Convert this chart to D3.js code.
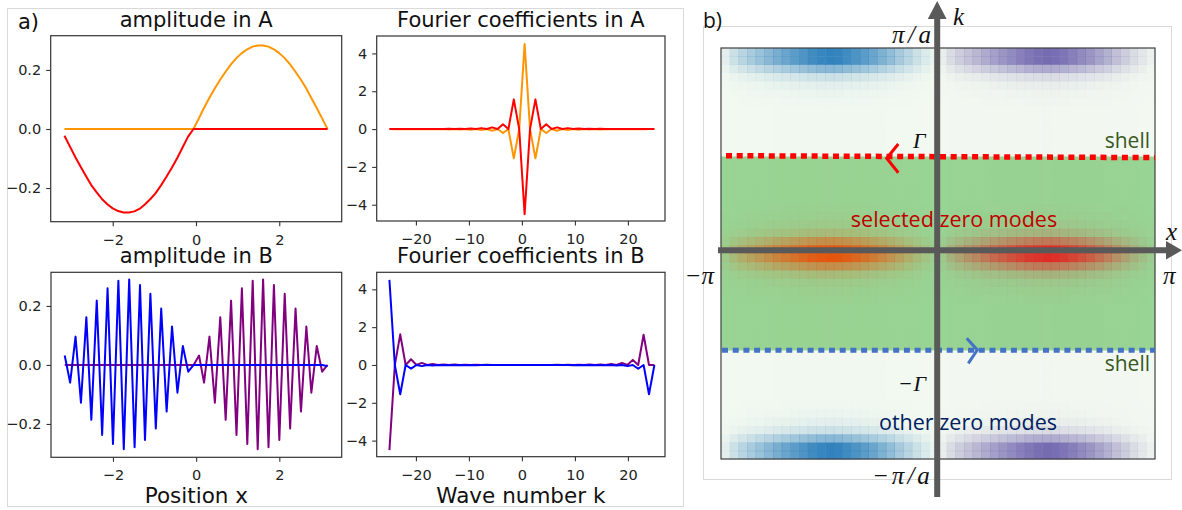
<!DOCTYPE html>
<html><head><meta charset="utf-8">
<script src="https://cdn.jsdelivr.net/npm/d3@7"></script>
<style>body{margin:0;background:#fff}svg{display:block}</style>
</head><body>
<svg id="c" width="1182" height="510"></svg>
<script>
// ---------------- data ----------------
const posX = [-3.16,-3.03,-2.90,-2.77,-2.64,-2.52,-2.39,-2.26,-2.13,-2.00,-1.87,-1.74,-1.61,-1.48,-1.35,-1.23,-1.10,-0.97,-0.84,-0.71,-0.58,-0.45,-0.32,-0.19,-0.06,
  0.07,0.19,0.32,0.45,0.58,0.71,0.84,0.97,1.10,1.23,1.36,1.48,1.61,1.74,1.87,2.00,2.13,2.26,2.39,2.52,2.65,2.77,2.90,3.03,3.16];
const ampARed = [-0.023,-0.059,-0.095,-0.128,-0.160,-0.189,-0.214,-0.237,-0.255,-0.269,-0.278,-0.283,-0.283,-0.279,-0.270,-0.256,-0.238,-0.217,-0.191,-0.162,-0.131,-0.098,-0.062,-0.026,0,
  0,0,0,0,0,0,0,0,0,0,0,0,0,0,0,0,0,0,0,0,0,0,0,0,0];
const ampAOrange = [0,0,0,0,0,0,0,0,0,0,0,0,0,0,0,0,0,0,0,0,0,0,0,0,
  0,0.036,0.071,0.105,0.137,0.167,0.194,0.219,0.240,0.257,0.270,0.279,0.283,0.283,0.279,0.270,0.257,0.240,0.219,0.194,0.167,0.137,0.105,0.071,0.036,0];
const ampBBlue = [0.032,-0.060,0.096,-0.128,0.162,-0.186,0.218,-0.237,0.260,-0.268,0.285,-0.286,0.290,-0.279,0.271,-0.254,0.241,-0.215,0.191,-0.158,0.130,-0.094,0.064,-0.023,0,
  0,0,0,0,0,0,0,0,0,0,0,0,0,0,0,0,0,0,0,0,0,0,0,0,-0.004];
const ampBPurple = [0,0,0,0,0,0,0,0,0,0,0,0,0,0,0,0,0,0,0,0,0,0,0,0,0,
  0.032,-0.060,0.096,-0.128,0.162,-0.186,0.218,-0.237,0.260,-0.268,0.285,-0.286,0.290,-0.279,0.271,-0.254,0.241,-0.215,0.191,-0.158,0.130,-0.094,0.064,-0.023,0];

// wave numbers: 50 points from -25 to 25
const kGrid = [-25,-23.98,-22.96,-21.94,-20.92,-19.90,-18.88,-17.86,-16.84,-15.82,-14.80,-13.78,-12.76,-11.73,-10.71,-9.69,-8.67,-7.65,-6.63,-5.61,-4.59,-3.57,-2.55,-1.53,-0.51,
  0.51,1.53,2.55,3.57,4.59,5.61,6.63,7.65,8.67,9.69,10.71,11.73,12.76,13.78,14.80,15.82,16.84,17.86,18.88,19.90,20.92,21.94,22.96,23.98,25];
const fourierAOrange = [0,-0.01,0,-0.01,0,-0.01,0,-0.01,0,-0.01,0,-0.02,0,-0.02,0,-0.03,0,-0.05,0,-0.09,0,-0.21,0,-1.55,0,
  4.5,0,-1.55,0,-0.21,0,-0.09,0,-0.05,0,-0.03,0,-0.02,0,-0.02,0,-0.01,0,-0.01,0,-0.01,0,-0.01,0,0];
const fourierARed = [0,0.01,0,0.01,0,0.01,0,0.01,0,0.01,0,0.02,0,0.02,0,0.03,0,0.05,0,0.09,0,0.25,0,1.57,0,
  -4.5,0,1.57,0,0.25,0,0.09,0,0.05,0,0.03,0,0.02,0,0.02,0,0.01,0,0.01,0,0.01,0,0.01,0,0];
const fourierBBlue = [4.5,0,-1.55,0,-0.19,0,-0.06,0,-0.03,0,-0.02,0,-0.01,0,-0.01,0,-0.01,0,0,0,0,0,0,0,0,
  0,0,0,0,0,0,0,0,0,-0.01,0,-0.01,0,-0.01,0,-0.02,0,-0.03,0,-0.06,0,-0.2,0,-1.55,0];
const fourierBPurple = [-4.5,0,1.62,0,0.3,0,0.11,0,0.05,0,0.03,0,0.02,0,0.01,0,0.01,0,0.01,0,0,0,0,0,0,
  0,0,0,0,0,0,0.01,0,0.01,0,0.01,0,0.02,0,0.03,0,0.05,0,0.11,0,0.27,0,1.6,0,0];

const posTicks = [-2,0,2];
const ampTicks = [-0.2,0,0.2];
const kTicks = [-20,-10,0,10,20];
const coefTicks = [-4,-2,0,2,4];

// heat map (panel b): 50 x-columns, 50 k-rows
const heatColProfile = [0.08,0.2,0.3,0.38,0.46,0.55,0.63,0.7,0.78,0.85,0.92,0.97,1.0,0.98,0.93,0.86,0.78,0.7,0.6,0.5,0.4,0.3,0.2,0.12,0.05];
const heatRowProfile = [1,1,0.55,0.2,0.08,0.04,0.02,0.01,0.01,0.01,0.01,0.01,0.01,0.01,0.01,0.01,0.01,0.01,0.01,0.02,0.04,0.08,0.2,0.55,1,
  1,0.55,0.2,0.08,0.04,0.02,0.01,0.01,0.01,0.01,0.01,0.01,0.01,0.01,0.01,0.01,0.01,0.01,0.02,0.04,0.08,0.2,0.55,1,1];
const heatRowGroup = [0,0,0,0,0,0,0,0,0,0,0,0,0,1,1,1,1,1,1,1,1,1,1,1,1,1,1,1,1,1,1,1,1,1,1,1,1,0,0,0,0,0,0,0,0,0,0,0,0,0];
const blobColors = [["#3182bd","#756bb1"],["#e6550d","#de2d26"]];

// ---------------- drawing ----------------
const svg = d3.select("#c");
const FONT = "DejaVu Sans, sans-serif";

// panel frames
svg.append("rect").attr("x",7.5).attr("y",8.5).attr("width",676).attr("height",498)
  .attr("fill","none").attr("stroke","#d9d9d9").attr("stroke-width",1);
svg.append("text").attr("x",18).attr("y",29).attr("font-family",FONT).attr("font-size",21).attr("fill","#111").text("a)");

function panel(o){
  const g = svg.append("g");
  const x = d3.scaleLinear().domain(o.xd).range([o.l,o.r]);
  const y = d3.scaleLinear().domain(o.yd).range([o.b,o.t]);
  g.append("text").attr("x",(o.l+o.r)/2).attr("y",o.t-9).attr("text-anchor","middle")
    .attr("font-family",FONT).attr("font-size",21).attr("fill","#111").text(o.title);
  const line = d3.line().x((d,i)=>x(o.xs[i])).y(d=>y(d));
  o.series.forEach(s=>{
    g.append("path").datum(s.v).attr("d",line).attr("fill","none").attr("stroke",s.c)
      .attr("stroke-width",2).attr("stroke-linejoin","round");
  });
  const xa = g.append("g").attr("transform",`translate(0,${o.b})`)
    .call(d3.axisBottom(x).tickValues(o.xt).tickSize(4.5).tickPadding(6).tickFormat(o.xf));
  const ya = g.append("g").attr("transform",`translate(${o.l},0)`)
    .call(d3.axisLeft(y).tickValues(o.yt).tickSize(4.5).tickPadding(5).tickFormat(o.yf));
  [xa,ya].forEach(a=>{
    a.select(".domain").remove();
    a.selectAll("line").attr("stroke","#333").attr("stroke-width",1.1);
    a.selectAll("text").attr("font-family",FONT).attr("font-size",14.5).attr("fill","#222");
  });
  xa.selectAll("text").attr("dy","0.85em");
  g.append("rect").attr("x",o.l).attr("y",o.t).attr("width",o.r-o.l).attr("height",o.b-o.t)
    .attr("fill","none").attr("stroke","#333").attr("stroke-width",1.2);
  if(o.xlabel) g.append("text").attr("x",(o.l+o.r)/2).attr("y",o.b+46).attr("text-anchor","middle")
    .attr("font-family",FONT).attr("font-size",21.5).attr("fill","#111").text(o.xlabel);
}
const minus = s => s.replace("-","\u2212");
const fmtAmp = d => minus(d3.format(".1f")(d));
const fmtInt = d => minus(String(d));

panel({l:50.7,r:341.7,t:35.7,b:221.7,xd:[-3.49,3.50],yd:[-0.314,0.316],title:"amplitude in A",
  xs:posX,series:[{v:ampAOrange,c:"#ff9500"},{v:ampARed,c:"#ff0000"}],xt:posTicks,yt:ampTicks,xf:fmtInt,yf:fmtAmp});
panel({l:376.7,r:665,t:36,b:221,xd:[-27.4,27.0],yd:[-4.86,4.92],title:"Fourier coefficients in A",
  xs:kGrid,series:[{v:fourierAOrange,c:"#ff9500"},{v:fourierARed,c:"#ff0000"}],xt:kTicks,yt:coefTicks,xf:fmtInt,yf:fmtInt});
panel({l:51,r:341.7,t:272.3,b:457.3,xd:[-3.49,3.50],yd:[-0.313,0.314],title:"amplitude in B",xlabel:"Position x",
  xs:posX,series:[{v:ampBPurple,c:"#800080"},{v:ampBBlue,c:"#0000ff"}],xt:posTicks,yt:ampTicks,xf:fmtInt,yf:fmtAmp});
panel({l:376.7,r:665,t:272.3,b:456.7,xd:[-27.4,27.0],yd:[-4.85,4.90],title:"Fourier coefficients in B",xlabel:"Wave number k",
  xs:kGrid,series:[{v:fourierBPurple,c:"#800080"},{v:fourierBBlue,c:"#0000ff"}],xt:kTicks,yt:coefTicks,xf:fmtInt,yf:fmtInt});

// ---------------- panel b ----------------
svg.append("rect").attr("x",703.5).attr("y",26.5).attr("width",468).attr("height",453)
  .attr("fill","none").attr("stroke","#d9d9d9").attr("stroke-width",1);
svg.append("text").attr("x",703).attr("y",28).attr("font-family","Open Sans, sans-serif").attr("font-size",21).attr("fill","#111").text("b)");

const HX0=721, HX1=1155, HY0=48, HY1=459;
const cx = d3.scaleBand().domain(d3.range(50)).range([HX0,HX1]);
const cy = d3.scaleBand().domain(d3.range(50)).range([HY0,HY1]);
svg.append("rect").attr("x",HX0).attr("y",HY0).attr("width",HX1-HX0).attr("height",HY1-HY0).attr("fill","#f3f9f1");
svg.append("rect").attr("x",HX0).attr("y",156.5).attr("width",HX1-HX0).attr("height",350.5-156.5).attr("fill","#98d494");
const cells=[];
heatRowProfile.forEach((rp,r)=>{
  for(let c=0;c<50;c++){
    const half = c<25?0:1;
    const cp = heatColProfile[c%25];
    cells.push({r,c,t:Math.min(1,rp*cp),col:blobColors[heatRowGroup[r]][half]});
  }
});
svg.append("g").selectAll("rect").data(cells).join("rect")
  .attr("x",d=>cx(d.c)).attr("y",d=>cy(d.r)).attr("width",cx.bandwidth()+0.4).attr("height",cy.bandwidth()+0.4)
  .attr("fill",d=>d.col).attr("fill-opacity",d=>d.t);
svg.append("rect").attr("x",HX0).attr("y",HY0).attr("width",HX1-HX0).attr("height",HY1-HY0)
  .attr("fill","none").attr("stroke","#404040").attr("stroke-width",1.2);

// shells
svg.append("line").attr("x1",726).attr("y1",155.7).attr("x2",1155).attr("y2",157.6)
  .attr("stroke","#ff0000").attr("stroke-width",5.5).attr("stroke-dasharray","6,4.7");
svg.append("line").attr("x1",722).attr("y1",350.3).attr("x2",1155).attr("y2",350.3)
  .attr("stroke","#4472c4").attr("stroke-width",5).attr("stroke-dasharray","6,4.7");
svg.append("polyline").attr("points","898.3,144 886.7,158.3 898.3,172.7").attr("fill","none")
  .attr("stroke","#ff0000").attr("stroke-width",3);
svg.append("polyline").attr("points","966.7,338.3 977.3,350 968.3,363.3").attr("fill","none")
  .attr("stroke","#4472c4").attr("stroke-width",3);

const SANS="Open Sans, sans-serif", SERIF="Liberation Serif, DejaVu Serif, serif";
function txt(x,y,s,o){
  const t=svg.append("text").attr("x",x).attr("y",y).text(s)
    .attr("font-family",o.f).attr("font-size",o.s).attr("fill",o.c||"#111");
  if(o.i) t.attr("font-style","italic");
  if(o.a) t.attr("text-anchor",o.a);
  if(o.ls) t.attr("letter-spacing",o.ls);
  return t;
}
txt(1150,148,"shell",{f:SANS,s:21,c:"#385723",a:"end"});
txt(1150,371,"shell",{f:SANS,s:21,c:"#385723",a:"end"});
txt(954,226.5,"selected zero modes",{f:SANS,s:21.5,c:"#c00000",a:"middle"});
txt(968,430,"other zero modes",{f:SANS,s:21.5,c:"#002060",a:"middle"});

// axes arrows
svg.append("line").attr("x1",718).attr("y1",250.3).attr("x2",1168).attr("y2",250.3)
  .attr("stroke","#595959").attr("stroke-width",6);
svg.append("polygon").attr("points","1166,241 1182,250.3 1166,259.6").attr("fill","#595959");
svg.append("line").attr("x1",937.2).attr("y1",497).attr("x2",937.2).attr("y2",17)
  .attr("stroke","#595959").attr("stroke-width",6);
svg.append("polygon").attr("points","927.8,19 937.2,1 946.6,19").attr("fill","#595959");

// math labels
txt(953,25,"k",{f:SERIF,s:25,i:1});
txt(892,43,"π/a",{f:SERIF,s:25,i:1,ls:3.5});
txt(913,148,"Γ",{f:SERIF,s:22,i:1});
txt(1166,240,"x",{f:SERIF,s:25,i:1});
txt(714,284,"−π",{f:SERIF,s:25,i:1,a:"end"});
txt(1163,284,"π",{f:SERIF,s:25,i:1});
txt(927,390.5,"−Γ",{f:SERIF,s:22,i:1,a:"end",ls:1});
txt(872,483.5,"−π/a",{f:SERIF,s:25,i:1,ls:3});
</script>
</body></html>
